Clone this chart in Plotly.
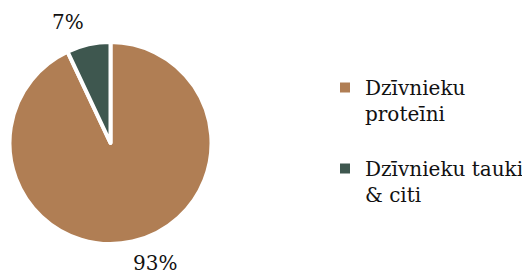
import plotly.graph_objects as go

labels = ["Dzīvnieku<br>proteīni<br> ", "Dzīvnieku tauki<br>& citi"]
values = [93, 7]
colors = ["#B07E54", "#3E574F"]

# the page adds an 8px body margin, so the figure is sized to the visible area
W, H = 522, 267
FONT = "DejaVu Serif"

fig = go.Figure(go.Pie(
    labels=labels, values=values, sort=False, direction="clockwise", rotation=0,
    marker=dict(colors=colors, line=dict(color="white", width=4)),
    textinfo="none", hoverinfo="skip",
    domain=dict(x=[1.5 / W, 203.5 / W], y=[(H - 236) / H, (H - 34) / H]),
))

# percentage labels placed outside the pie
label_pos = [(147, 255), (60, 14)]
for v, (px, py) in zip(values, label_pos):
    fig.add_annotation(x=px / W, y=1 - py / H, xref="paper", yref="paper",
                       xanchor="center", yanchor="middle",
                       text=f"{v}%", showarrow=False,
                       font=dict(family=FONT, size=20, color="#111111"))

fig.update_layout(
    width=W, height=H, margin=dict(l=0, r=0, t=0, b=0),
    paper_bgcolor="white", plot_bgcolor="white",
    font=dict(family=FONT, size=20, color="#111111"),
    legend=dict(x=317 / W, y=1 - 60 / H, xanchor="left", yanchor="top",
                valign="top", tracegroupgap=0, itemsizing="constant",
                font=dict(family=FONT, size=20, color="#111111")),
)
fig.write_html("out.html")
